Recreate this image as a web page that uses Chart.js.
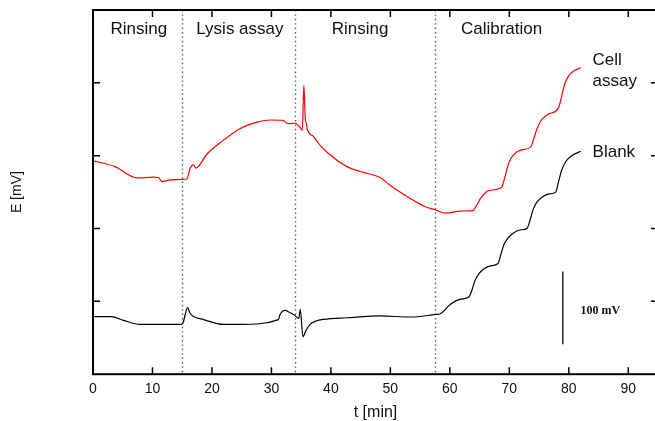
<!DOCTYPE html>
<html>
<head>
<meta charset="utf-8">
<script src="https://cdn.jsdelivr.net/npm/chart.js@4.4.1/dist/chart.umd.min.js"></script>
<style>
  html, body { margin: 0; padding: 0; overflow: hidden; background: #fff; }
  #wrap { width: 660px; height: 421px; position: relative; }
</style>
</head>
<body>
<div id="wrap"><canvas id="chart"></canvas></div>
<script>
// Electrode potential traces (time in min, potential in mV, arbitrary offset)
const cellTime = [0, 3.7, 7.4, 10.2, 11.0, 11.6, 13.0, 15.0, 15.8, 16.3, 16.9, 17.3, 17.7, 19.1, 21.9, 24.7, 27.6, 29.8, 32.0, 32.5, 33.0, 34.0, 34.8, 35.2, 35.45, 35.7, 35.9, 36.0, 37.0, 38.2, 39.3, 42.7, 45.5, 48.3, 50.0, 52.8, 55.6, 57.6, 59.3, 61.8, 63.9, 64.5, 65.3, 66.5, 68.7, 69.3, 69.9, 70.8, 72.0, 73.6, 74.1, 74.7, 75.4, 76.5, 78.2, 78.7, 79.3, 80.0, 81.0, 82.0];
const cellPotential = [293, 285, 269.5, 270.5, 270, 264.5, 266.8, 267.5, 268, 282, 287.5, 283, 285, 301.6, 321, 337, 346, 349, 348.5, 345, 344, 344.5, 339, 335, 396.7, 350, 344, 337, 327, 314, 305, 285, 277, 270, 259, 244, 231, 225.4, 221, 224, 224.5, 232, 243, 252, 256.6, 272, 290, 302, 308, 311.7, 323, 338, 349, 357, 364.6, 378, 398, 410, 417, 420.5];

const blankTime = [0, 3.1, 5.1, 7.9, 14.9, 15.2, 15.5, 15.9, 16.3, 17.0, 18.6, 21.9, 24.7, 31.2, 31.4, 31.8, 32.3, 33.0, 33.7, 34.6, 34.85, 35.3, 35.8, 36.5, 37.5, 38.8, 42.7, 48.3, 53.4, 57.6, 58.4, 60.1, 61.8, 63.2, 63.7, 64.2, 64.9, 65.8, 66.8, 68.1, 68.6, 69.1, 69.8, 70.7, 71.8, 73.0, 73.5, 74.0, 74.6, 75.5, 76.7, 77.8, 78.3, 78.8, 79.5, 80.5, 82.0];
const blankPotential = [79, 79, 74, 68.4, 68.4, 72, 82, 91.3, 84, 79, 75, 68.4, 68.4, 75, 81, 86, 87.7, 85, 82, 76.7, 89, 51.4, 60, 68.4, 73, 75.3, 77.5, 80, 78.5, 82, 83, 96, 103, 106, 115, 128, 138, 145, 148.8, 152, 165, 178, 187, 194, 198, 200.5, 212, 226, 236, 243, 247.5, 250, 265, 280, 292, 300, 306];

// 100 mV scale bar
const scaleBarTime = [79, 79];
const scaleBarPotential = [41, 141];

// Experiment phases
const phaseBoundaries = [15, 34, 57.5];
const phaseNames = ['Rinsing', 'Lysis assay', 'Rinsing', 'Calibration'];

// Axis ticks
const xTickValues = [0, 10, 20, 30, 40, 50, 60, 70, 80, 90];
const yTickValues = [0, 100, 200, 300, 400, 500];

const toPoints = (xs, ys) => xs.map((x, i) => ({ x: x, y: ys[i] }));

const FONT = "'Liberation Sans', Arial, Helvetica, sans-serif";
const INK = '#111';

// Frame, inward ticks, phase separators and text annotations
const decorations = {
  id: 'decorations',
  beforeDatasetsDraw(chart) {
    const { ctx, chartArea: a, scales: { x } } = chart;
    ctx.save();
    ctx.strokeStyle = '#555';
    ctx.lineWidth = 1.4;
    ctx.setLineDash([1.4, 3]);
    phaseBoundaries.forEach(t => {
      const px = Math.round(x.getPixelForValue(t)) + 0.5;
      ctx.beginPath();
      ctx.moveTo(px, a.top);
      ctx.lineTo(px, a.bottom);
      ctx.stroke();
    });
    ctx.restore();
  },
  afterDatasetsDraw(chart) {
    const { ctx, chartArea: a, scales: { x, y } } = chart;
    ctx.save();
    ctx.strokeStyle = '#000';
    ctx.lineWidth = 2;
    ctx.strokeRect(a.left, a.top, a.right - a.left, a.bottom - a.top);

    // inward tick marks
    ctx.lineWidth = 1.5;
    const tl = 7;
    ctx.beginPath();
    x.ticks.forEach(t => {
      const px = x.getPixelForValue(t.value);
      if (px <= a.left + 1 || px >= a.right - 1) return;
      ctx.moveTo(px, a.bottom); ctx.lineTo(px, a.bottom - tl);
      ctx.moveTo(px, a.top); ctx.lineTo(px, a.top + tl);
    });
    yTickValues.forEach(v => {
      const py = y.getPixelForValue(v);
      if (py <= a.top + 1 || py >= a.bottom - 1) return;
      ctx.moveTo(a.left, py); ctx.lineTo(a.left + tl, py);
      ctx.moveTo(a.right, py); ctx.lineTo(a.right - tl, py);
    });
    ctx.stroke();

    // phase titles
    ctx.fillStyle = INK;
    ctx.font = '17px ' + FONT;
    ctx.textAlign = 'center';
    ctx.textBaseline = 'alphabetic';
    const labelTimes = [7.7, 24.7, 44.9, 68.7];
    phaseNames.forEach((name, i) => {
      ctx.fillText(name, x.getPixelForValue(labelTimes[i]), a.top + 23.5);
    });

    // curve names
    ctx.textAlign = 'left';
    const nameX = x.getPixelForValue(84);
    ctx.fillText('Cell', nameX, y.getPixelForValue(425));
    ctx.fillText('assay', nameX, y.getPixelForValue(395));
    ctx.fillText('Blank', nameX, y.getPixelForValue(298));

    // scale bar label
    ctx.font = 'bold 12px "Liberation Serif", "Times New Roman", serif';
    ctx.textAlign = 'center';
    ctx.textBaseline = 'middle';
    ctx.fillText('100 mV', x.getPixelForValue(85.3), y.getPixelForValue(87.5));
    ctx.restore();
  }
};

new Chart(document.getElementById('chart'), {
  type: 'line',
  data: {
    datasets: [
      {
        label: 'Cell assay',
        data: toPoints(cellTime, cellPotential),
        borderColor: '#ff0000',
        borderWidth: 1.2,
        pointRadius: 0,
        cubicInterpolationMode: 'monotone'
      },
      {
        label: 'Blank',
        data: toPoints(blankTime, blankPotential),
        borderColor: '#000000',
        borderWidth: 1.2,
        pointRadius: 0,
        cubicInterpolationMode: 'monotone'
      },
      {
        label: '100 mV',
        data: toPoints(scaleBarTime, scaleBarPotential),
        borderColor: '#000000',
        borderWidth: 1.3,
        pointRadius: 0
      }
    ]
  },
  options: {
    responsive: true,
    maintainAspectRatio: false,
    devicePixelRatio: 1,
    animation: false,
    layout: { padding: { left: 0, top: 10, right: 2, bottom: 0 } },
    plugins: { legend: { display: false }, tooltip: { enabled: false } },
    scales: {
      x: {
        type: 'linear',
        min: 0,
        max: 95,
        afterBuildTicks: s => { s.ticks = xTickValues.map(v => ({ value: v })); },
        ticks: { color: INK, padding: 7, font: { family: FONT, size: 14 } },
        grid: { display: false, drawTicks: false },
        border: { display: false },
        title: { display: true, text: 't [min]', color: INK, font: { family: FONT, size: 16, lineHeight: 1 }, padding: { top: 0, bottom: 0 } }
      },
      y: {
        type: 'linear',
        min: 0,
        max: 500,
        afterBuildTicks: s => { s.ticks = yTickValues.map(v => ({ value: v })); },
        ticks: { display: false },
        grid: { display: false, drawTicks: false },
        border: { display: false },
        title: { display: true, text: 'E [mV]', color: INK, font: { family: FONT, size: 14 }, padding: { top: 9.1, bottom: 67.1 } }
      }
    }
  },
  plugins: [decorations]
});
</script>
</body>
</html>
